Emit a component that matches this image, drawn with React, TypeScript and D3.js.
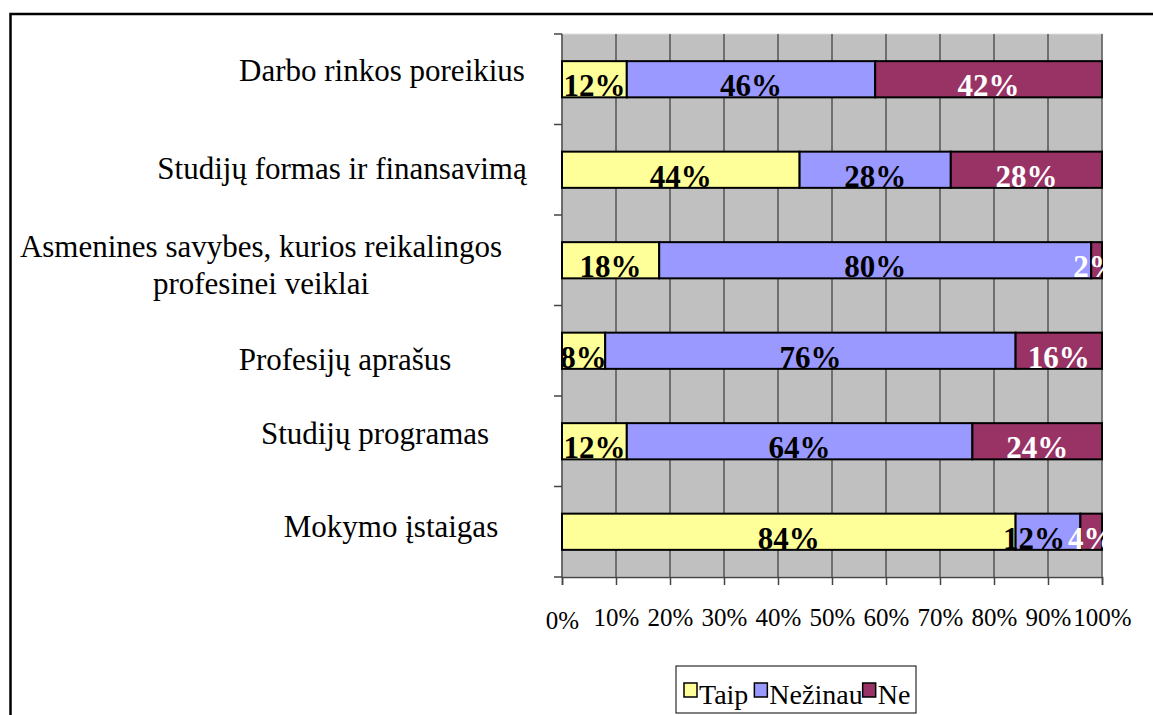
import React, { useEffect, useRef } from 'react';
import * as d3 from 'd3';

// categories top to bottom
const categories = [
  'Darbo rinkos poreikius',
  'Studijų formas ir finansavimą',
  'Asmenines savybes, kurios reikalingos profesinei veiklai',
  'Profesijų aprašus',
  'Studijų programas',
  'Mokymo įstaigas',
];
const labelLines = [
  ['Darbo rinkos poreikius'],
  ['Studijų formas ir finansavimą'],
  ['Asmenines savybes, kurios reikalingos', 'profesinei veiklai'],
  ['Profesijų aprašus'],
  ['Studijų programas'],
  ['Mokymo įstaigas'],
];
const seriesNames = ['Taip', 'Nežinau', 'Ne'];
const taip = [12, 44, 18, 8, 12, 84];
const nezinau = [46, 28, 80, 76, 64, 12];
const ne = [42, 28, 2, 16, 24, 4];
const xTicks = [0, 10, 20, 30, 40, 50, 60, 70, 80, 90, 100];

const colors = ['#ffff99', '#9999ff', '#993366'];
const textColors = ['#000', '#000', '#fff'];
// label layout: centre x and baseline offset from the bar centre
const labelLayout = [
  [382, 2],
  [342, 9],
  [261, 15],
  [345, 19],
  [375, 3],
  [391, 5],
];

const W = 1153;
const H = 715;
const margin = { top: 34, left: 562, right: 51, bottom: 138 };
const FONT = '"Liberation Serif", "Times New Roman", serif';

const App = () => {
  const ref = useRef<SVGSVGElement>(null);

  useEffect(() => {
    const svg = d3.select(ref.current);
    svg.selectAll('*').remove();

    const x = d3.scaleLinear().domain([0, 100]).range([margin.left, W - margin.right]);
    const y = d3
      .scaleBand()
      .domain(categories)
      .range([margin.top, H - margin.bottom])
      .paddingInner(0.6)
      .paddingOuter(0.3);

    const rows = categories.map((c, i) => ({ cat: c, Taip: taip[i], 'Nežinau': nezinau[i], Ne: ne[i] }));
    const stack = d3.stack<any>().keys(seriesNames)(rows);

    // outer frame
    svg
      .append('rect')
      .attr('x', 10.5)
      .attr('y', 14)
      .attr('width', W + 20)
      .attr('height', H + 20)
      .attr('fill', 'none')
      .attr('stroke', '#000')
      .attr('stroke-width', 2.5);

    // plot background
    const [x0, x1] = x.range();
    const [y0, y1] = y.range();
    svg
      .append('rect')
      .attr('x', x0)
      .attr('y', y0)
      .attr('width', x1 - x0)
      .attr('height', y1 - y0)
      .attr('fill', '#c0c0c0')
      .attr('stroke', '#ddd')
      .attr('stroke-width', 1);

    svg
      .append('g')
      .selectAll('line')
      .data(xTicks.slice(1))
      .join('line')
      .attr('x1', (d) => x(d))
      .attr('x2', (d) => x(d))
      .attr('y1', y0)
      .attr('y2', y1)
      .attr('stroke', '#555')
      .attr('stroke-width', 1.5);

    // x axis
    const xAxis = svg
      .append('g')
      .attr('transform', `translate(0, ${y1})`)
      .call(
        d3
          .axisBottom(x)
          .tickValues(xTicks)
          .tickSize(8)
          .tickPadding(24)
          .tickFormat((d) => `${d}%`)
      );
    xAxis.attr('font-family', null).attr('font-size', null);
    xAxis.select('.domain').attr('stroke', '#444').attr('stroke-width', 1.5);
    xAxis.selectAll('.tick line').attr('stroke', '#444').attr('stroke-width', 1.5);
    xAxis
      .selectAll('.tick text')
      .style('font-family', FONT)
      .style('font-size', '25px')
      .attr('fill', '#000')
      .attr('y', 0)
      .attr('dy', (d: any) => (d === 0 ? 52 : 49));

    // y axis with ticks at band boundaries
    const step = y.step();
    const yTickPos = d3.range(categories.length + 1).map((i) => y0 + i * step);
    svg
      .append('line')
      .attr('x1', x0)
      .attr('x2', x0)
      .attr('y1', y0)
      .attr('y2', y1)
      .attr('stroke', '#444')
      .attr('stroke-width', 1.5);
    svg
      .append('g')
      .selectAll('line')
      .data(yTickPos)
      .join('line')
      .attr('x1', x0 - 8)
      .attr('x2', x0)
      .attr('y1', (d) => d)
      .attr('y2', (d) => d)
      .attr('stroke', '#444')
      .attr('stroke-width', 1.5);

    // bars
    svg
      .append('defs')
      .append('clipPath')
      .attr('id', 'plotClip')
      .append('rect')
      .attr('x', x0)
      .attr('y', y0)
      .attr('width', x1 - x0 + 1)
      .attr('height', y1 - y0);

    const layers = svg
      .append('g')
      .selectAll('g')
      .data(stack)
      .join('g')
      .attr('fill', (_d, i) => colors[i]);
    layers
      .selectAll('rect')
      .data((d) => d)
      .join('rect')
      .attr('x', (d) => x(d[0]))
      .attr('y', (d) => y(d.data.cat)!)
      .attr('width', (d) => x(d[1]) - x(d[0]))
      .attr('height', y.bandwidth())
      .attr('stroke', '#000')
      .attr('stroke-width', 2);

    // value labels (narrow segments get pushed left like Excel does)
    const lbl = svg.append('g').attr('clip-path', 'url(#plotClip)');
    stack.forEach((s, si) => {
      lbl
        .append('g')
        .selectAll('text')
        .data(s)
        .join('text')
        .attr('x', (d) => {
          const cx = (x(d[0]) + x(d[1])) / 2;
          const next = si < stack.length - 1 ? stack[si + 1][s.indexOf(d)] : null;
          const crowded = next && next[1] - next[0] < 5 && d[1] - d[0] < 15;
          return crowded ? cx - 14 : cx;
        })
        .attr('y', (d) => y(d.data.cat)! + y.bandwidth() / 2 + 17)
        .attr('text-anchor', 'middle')
        .attr('font-family', FONT)
        .attr('font-weight', 'bold')
        .attr('font-size', 31)
        .attr('fill', textColors[si])
        .text((d) => `${d[1] - d[0]}%`);
    });

    // category labels
    categories.forEach((c, i) => {
      const lines = labelLines[i];
      const [cx, dy] = labelLayout[i];
      const cy = y(c)! + y.bandwidth() / 2;
      svg
        .append('text')
        .attr('font-family', FONT)
        .attr('font-size', 31)
        .attr('text-anchor', 'middle')
        .attr('fill', '#000')
        .selectAll('tspan')
        .data(lines)
        .join('tspan')
        .attr('x', cx)
        .attr('y', (_d, j) => cy + dy + j * 37 - ((lines.length - 1) * 37) / 2)
        .text((d) => d);
    });

    // legend
    const legend = svg.append('g');
    const box = legend
      .append('rect')
      .attr('fill', '#fff')
      .attr('stroke', '#000')
      .attr('stroke-width', 1);
    let lx = 684;
    const ly = 704;
    seriesNames.forEach((name, i) => {
      legend
        .append('rect')
        .attr('x', lx)
        .attr('y', 683)
        .attr('width', 13)
        .attr('height', 14)
        .attr('fill', colors[i])
        .attr('stroke', '#000')
        .attr('stroke-width', 1.5);
      const t = legend
        .append('text')
        .attr('x', lx + 15)
        .attr('y', ly)
        .attr('font-family', FONT)
        .attr('font-size', 28)
        .attr('fill', '#000')
        .text(name);
      const len = (t.node() as SVGTextElement).getComputedTextLength();
      lx = lx + 15 + len + (i === 0 ? 6 : 0);
    });
    box.attr('x', 676).attr('y', 666).attr('width', 240).attr('height', 47);
  }, []);

  return (
    <svg
      ref={ref}
      width={W}
      height={H}
      style={{ position: 'fixed', left: 0, top: 0, background: '#fff' }}
    />
  );
};

export default App;
